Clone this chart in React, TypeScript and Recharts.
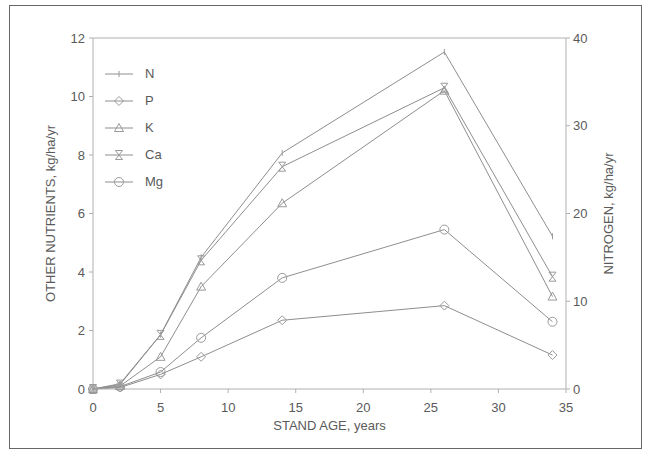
import { LineChart, Line, XAxis, YAxis, ReferenceLine, Label } from "recharts";

// stand age (years) and nutrient return, kg/ha/yr
const ages = [0, 2, 5, 8, 14, 26, 34];
const nitrogen = [0, 0.6, 6.2, 15, 26.9, 38.4, 17.4];
const phosphorus = [0, 0.05, 0.5, 1.1, 2.35, 2.85, 1.16];
const potassium = [0, 0.1, 1.1, 3.5, 6.35, 10.2, 3.16];
const calcium = [0, 0.15, 1.85, 4.4, 7.6, 10.3, 3.84];
const magnesium = [0, 0.08, 0.58, 1.75, 3.8, 5.45, 2.3];

const xTicks = [0, 5, 10, 15, 20, 25, 30, 35];
const leftTicks = [0, 2, 4, 6, 8, 10, 12];
const rightTicks = [0, 10, 20, 30, 40];

const data = ages.map((age, i) => ({
    age,
    N: nitrogen[i],
    P: phosphorus[i],
    K: potassium[i],
    Ca: calcium[i],
    Mg: magnesium[i],
}));

const LINE = "#8e8e8e";
const MARK = "#9a9a9a";
const TEXT = "#5a5a5a";
const AXIS = "#b0b0b0";
const FONT = "'Liberation Sans', Arial, sans-serif";

type Shape = "N" | "P" | "K" | "Ca" | "Mg";

function Marker({ shape, cx, cy }: { shape: Shape; cx: number; cy: number }) {
    const s = { stroke: MARK, strokeWidth: 1, fill: "none" };
    switch (shape) {
        case "N":
            return <line x1={cx} y1={cy - 3} x2={cx} y2={cy + 3} {...s} />;
        case "P":
            return <polygon points={`${cx},${cy - 4.5} ${cx + 4.5},${cy} ${cx},${cy + 4.5} ${cx - 4.5},${cy}`} {...s} />;
        case "K":
            return <polygon points={`${cx},${cy - 4.5} ${cx + 4.5},${cy + 3.5} ${cx - 4.5},${cy + 3.5}`} {...s} />;
        case "Ca":
            return (
                <g {...s}>
                    <line x1={cx - 3.5} y1={cy - 4.5} x2={cx + 3.5} y2={cy + 4.5} />
                    <line x1={cx + 3.5} y1={cy - 4.5} x2={cx - 3.5} y2={cy + 4.5} />
                    <line x1={cx - 3.5} y1={cy - 4.5} x2={cx + 3.5} y2={cy - 4.5} />
                    <line x1={cx - 3.5} y1={cy + 4.5} x2={cx + 3.5} y2={cy + 4.5} />
                </g>
            );
        default:
            return <circle cx={cx} cy={cy} r={4.5} {...s} />;
    }
}

const dotFor = (shape: Shape) => (props: any) => (
    <Marker key={`${shape}-${props.index}`} shape={shape} cx={props.cx} cy={props.cy} />
);

const series: { key: Shape; axis: string }[] = [
    { key: "N", axis: "right" },
    { key: "P", axis: "left" },
    { key: "K", axis: "left" },
    { key: "Ca", axis: "left" },
    { key: "Mg", axis: "left" },
];

function ChartLegend() {
    return (
        <div style={{ position: "absolute", left: 103, top: 60, fontFamily: FONT, fontSize: 13, color: TEXT }}>
            {series.map((s) => (
                <div key={s.key} style={{ display: "flex", alignItems: "center", height: 27 }}>
                    <svg width={34} height={14}>
                        <line x1={2} y1={7} x2={30} y2={7} stroke={LINE} strokeWidth={1} />
                        <Marker shape={s.key} cx={16} cy={7} />
                    </svg>
                    <span style={{ marginLeft: 8 }}>{s.key}</span>
                </div>
            ))}
        </div>
    );
}

export default function App() {
    const tick = { fontSize: 13, fill: TEXT, fontFamily: FONT };
    return (
        <div style={{ position: "absolute", left: 0, top: 0, width: 647, height: 453, background: "#fff" }}>
            <div
                style={{
                    position: "absolute",
                    left: 9,
                    top: 5,
                    width: 631,
                    height: 442,
                    border: "1.5px solid #666",
                }}
            />
            <LineChart
                width={647}
                height={453}
                data={data}
                margin={{ top: 38, right: 21, left: 33, bottom: 14 }}
                style={{ position: "absolute", left: 0, top: 0 }}
            >
                <XAxis
                    dataKey="age"
                    type="number"
                    domain={[0, 35]}
                    ticks={xTicks}
                    height={50}
                    stroke={AXIS}
                    tick={tick}
                    tickSize={4}
                    tickMargin={10}
                >
                    <Label
                        value="STAND AGE, years"
                        position="insideBottom"
                        offset={9}
                        style={{ fontSize: 13, fill: TEXT, fontFamily: FONT }}
                    />
                </XAxis>
                <YAxis
                    yAxisId="left"
                    domain={[0, 12]}
                    ticks={leftTicks}
                    width={60}
                    stroke={AXIS}
                    tick={tick}
                    tickSize={4}
                    tickMargin={4}
                >
                    <Label
                        value="OTHER NUTRIENTS, kg/ha/yr"
                        angle={-90}
                        position="insideLeft"
                        offset={17}
                        style={{ fontSize: 13, fill: TEXT, fontFamily: FONT, textAnchor: "middle" }}
                    />
                </YAxis>
                <YAxis
                    yAxisId="right"
                    orientation="right"
                    domain={[0, 40]}
                    ticks={rightTicks}
                    width={60}
                    stroke={AXIS}
                    tick={tick}
                    tickSize={4}
                    tickMargin={3}
                >
                    <Label
                        value="NITROGEN, kg/ha/yr"
                        angle={-90}
                        position="insideRight"
                        offset={18}
                        style={{ fontSize: 13, fill: TEXT, fontFamily: FONT, textAnchor: "middle" }}
                    />
                </YAxis>
                <ReferenceLine yAxisId="left" y={12} stroke={AXIS} />
                {series.map((s) => (
                    <Line
                        key={s.key}
                        yAxisId={s.axis}
                        dataKey={s.key}
                        type="linear"
                        stroke={LINE}
                        strokeWidth={1}
                        dot={dotFor(s.key)}
                        activeDot={false}
                        isAnimationActive={false}
                    />
                ))}
            </LineChart>
            <ChartLegend />
        </div>
    );
}
